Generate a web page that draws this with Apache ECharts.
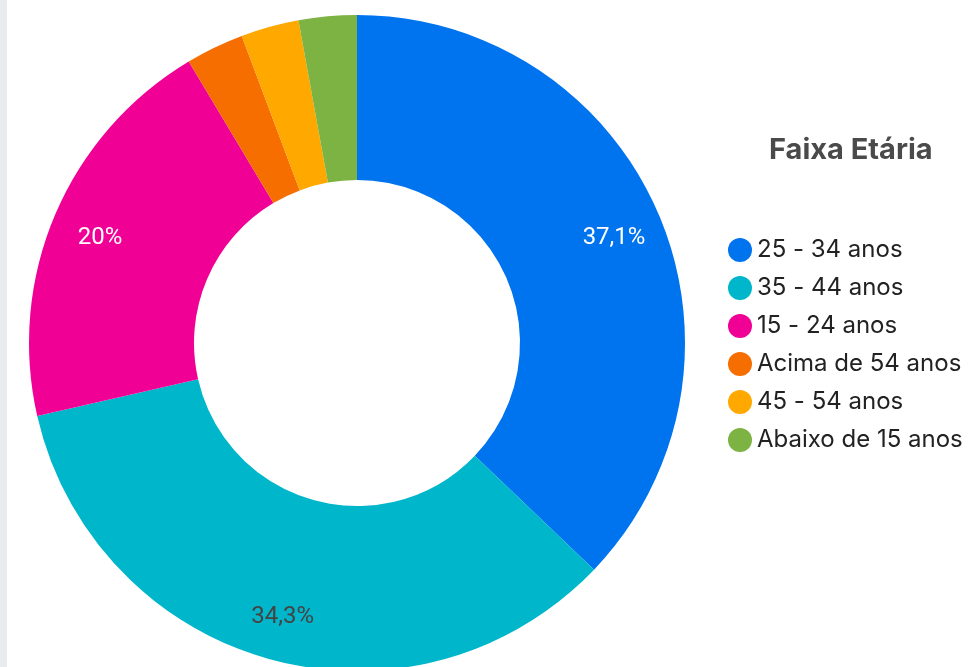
<!DOCTYPE html>
<html>
<head>
<meta charset="utf-8">
<title>Faixa Etária</title>
<script src="https://cdn.jsdelivr.net/npm/echarts@6/dist/echarts.min.js"></script>
<style>
  html, body { margin: 0; padding: 0; background: #fff; }
  #strip { position: absolute; left: 0; top: 0; width: 7px; height: 667px; background: #e8ecef; }
  #chart { position: absolute; left: 0; top: 0; width: 974px; height: 667px; }
</style>
</head>
<body>
<div id="strip"></div>
<div id="chart"></div>
<script>
// faixas etárias, na ordem do gráfico (sentido horário a partir do topo)
var categories = ['25 - 34 anos', '35 - 44 anos', '15 - 24 anos', 'Acima de 54 anos', '45 - 54 anos', 'Abaixo de 15 anos'];
var counts = [13, 12, 7, 1, 1, 1];
var colors = ['#0073ee', '#00b6cb', '#f10096', '#f66d00', '#ffa800', '#7cb342'];
var labelColors = ['#fff', '#444', '#fff', '#fff', '#fff', '#fff'];

var CENTER = [357, 343];

var chart = echarts.init(document.getElementById('chart'));

var pieData = categories.map(function (name, i) {
  return {
    name: name,
    value: counts[i],
    itemStyle: { color: colors[i] },
    label: { color: labelColors[i] }
  };
});

chart.setOption({
  animation: false,
  title: {
    text: 'Faixa Etária',
    left: 764,
    top: 131,
    textStyle: {
      fontFamily: 'Inter',
      fontWeight: 'bold',
      fontSize: 29,
      color: '#4a4a4a'
    }
  },
  legend: {
    orient: 'vertical',
    left: 723,
    top: 233,
    icon: 'circle',
    itemWidth: 24,
    itemHeight: 24,
    itemGap: 14,
    data: categories,
    textStyle: {
      fontFamily: 'Inter',
      fontSize: 24,
      lineHeight: 24,
      color: '#222'
    }
  },
  series: [
    {
      type: 'pie',
      center: CENTER,
      radius: [163, 328],
      startAngle: 90,
      clockwise: true,
      data: pieData,
      label: {
        show: true,
        position: 'inside',
        fontFamily: 'Roboto',
        fontSize: 24,
        formatter: function (p) {
          if (p.percent < 5) return '';
          var v = Math.round(p.percent * 10) / 10;
          return String(v).replace('.', ',') + '%';
        }
      },
      labelLine: { show: false },
      // empurra os rótulos um pouco para fora do meio do anel
      labelLayout: function (params) {
        var r = params.labelRect;
        var dx = r.x + r.width / 2 - CENTER[0];
        var dy = r.y + r.height / 2 - CENTER[1];
        var d = Math.sqrt(dx * dx + dy * dy) || 1;
        return { dx: dx / d * 31, dy: dy / d * 31 + 5 };
      },
      emphasis: { disabled: true }
    }
  ]
});
</script>
</body>
</html>
